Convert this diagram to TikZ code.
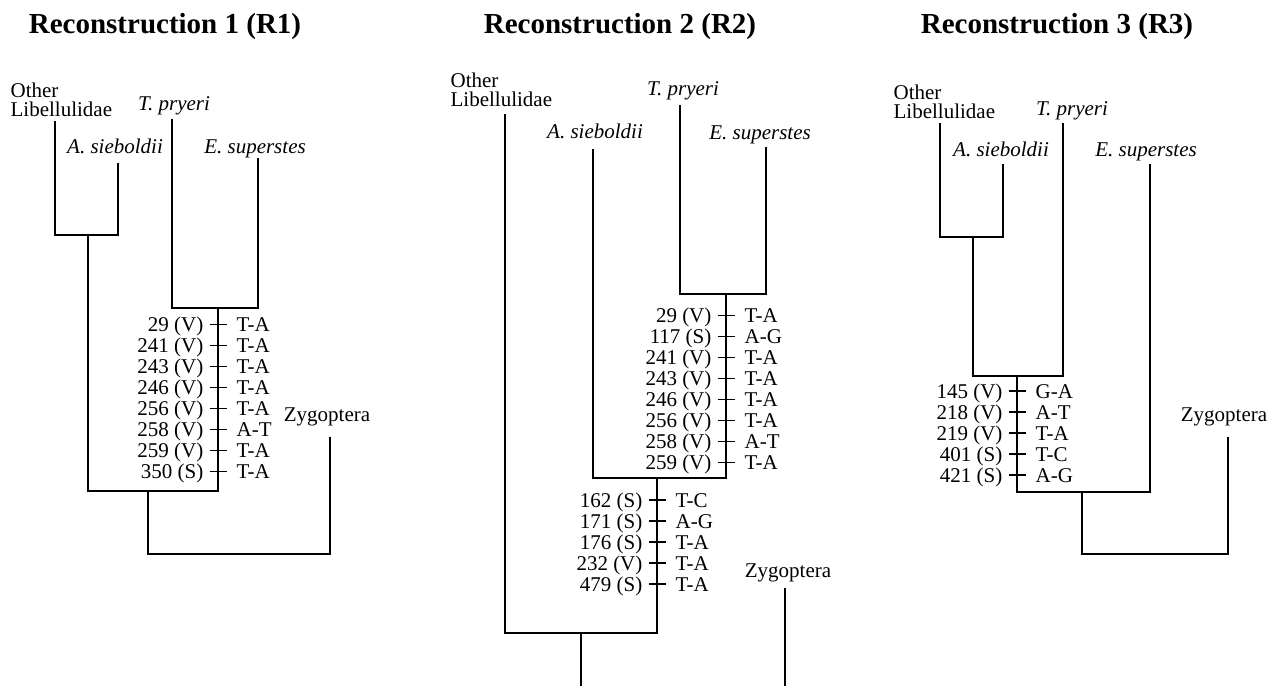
\documentclass[tikz,border=0pt]{standalone}
\usepackage{fontspec}
\setmainfont{Liberation Serif}
\newcommand{\mutlist}[3]{%
  \foreach \yy/\ll/\rr [count=\ii] in {#2} {
    \draw[tickmark] (#1-8.5,\yy) -- (#1+8.5,\yy);
    \node[lab, anchor=base east] (#3l\ii) at (#1-14,\yy+7) {\ll};
    \node[lab, anchor=base west] (#3r\ii) at (#1+18,\yy+7) {\rr};
  }}
\begin{document}
\begin{tikzpicture}[x=1pt,y=-1pt, line width=1.2pt,
  lab/.style={inner sep=0pt, anchor=base, font=\fontsize{21}{21}\selectfont},
  ttl/.style={inner sep=0pt, anchor=base, font=\fontsize{29}{30}\selectfont\bfseries},
  tickmark/.style={line width=1.2pt},
  branch/.style={line width=1.2pt}]
\useasboundingbox (0,0) rectangle (1277,686);

% ---------------- R1 ----------------
\node[ttl] (t1) at (165,33) {Reconstruction 1 (R1)};
\node[lab, anchor=base west] (o1a) at (10,97) {Other};
\node[lab, anchor=base west] (o1b) at (10,116.5) {Libellulidae};
\node[lab] (a1) at (115,153) {\textit{A. sieboldii}};
\node[lab] (p1) at (174,110) {\textit{T. pryeri}};
\node[lab] (e1) at (255,153) {\textit{E. superstes}};
\node[lab] (z1) at (327,421) {Zygoptera};
\coordinate (o1t) at (55,121);
\coordinate (a1t) at (118,163);
\coordinate (n1a) at (88,235);
\coordinate (p1t) at (172,119);
\coordinate (e1t) at (258,158);
\coordinate (n1b) at (218,308);
\coordinate (n1c) at (148,491);
\coordinate (r1) at (148,554);
\coordinate (z1t) at (330,437);
\draw[branch] (o1t) |- (n1a) -| (a1t);
\draw[branch] (p1t) |- (n1b) -| (e1t);
\draw[branch] (n1a) |- (n1c) -| (n1b);
\draw[branch] (n1c) -- (r1) -| (z1t);
\mutlist{218}{324.3/{29 (V)}/T-A, 345.3/{241 (V)}/T-A, 366.3/{243 (V)}/T-A, 387.3/{246 (V)}/T-A, 408.3/{256 (V)}/T-A, 429.3/{258 (V)}/A-T, 450.3/{259 (V)}/T-A, 471.3/{350 (S)}/T-A}{ma}

% ---------------- R2 ----------------
\node[ttl] (t2) at (620,33) {Reconstruction 2 (R2)};
\node[lab, anchor=base west] (o2a) at (450,87.5) {Other};
\node[lab, anchor=base west] (o2b) at (450,106) {Libellulidae};
\node[lab] (a2) at (595,138.5) {\textit{A. sieboldii}};
\node[lab] (p2) at (683,95) {\textit{T. pryeri}};
\node[lab] (e2) at (760,139.5) {\textit{E. superstes}};
\node[lab] (z2) at (788,577) {Zygoptera};
\coordinate (o2t) at (505,114);
\coordinate (a2t) at (593,149);
\coordinate (p2t) at (680,105);
\coordinate (e2t) at (766,147);
\coordinate (n2b) at (726,294);
\coordinate (n2c) at (657,478);
\coordinate (n2d) at (581,633);
\coordinate (r2) at (581,686);
\coordinate (z2t) at (785,588);
\coordinate (z2b) at (785,686);
\draw[branch] (p2t) |- (n2b) -| (e2t);
\draw[branch] (a2t) |- (n2c) -| (n2b);
\draw[branch] (o2t) |- (n2d) -| (n2c);
\draw[branch] (n2d) -- (r2);
\draw[branch] (z2t) -- (z2b);
\mutlist{726}{315.7/{29 (V)}/T-A, 336.7/{117 (S)}/A-G, 357.7/{241 (V)}/T-A, 378.7/{243 (V)}/T-A, 399.7/{246 (V)}/T-A, 420.7/{256 (V)}/T-A, 441.7/{258 (V)}/A-T, 462.7/{259 (V)}/T-A}{mb}
\mutlist{657}{500/{162 (S)}/T-C, 521/{171 (S)}/A-G, 542/{176 (S)}/T-A, 563/{232 (V)}/T-A, 584/{479 (S)}/T-A}{mc}

% ---------------- R3 ----------------
\node[ttl] (t3) at (1057,33) {Reconstruction 3 (R3)};
\node[lab, anchor=base west] (o3a) at (893,99.5) {Other};
\node[lab, anchor=base west] (o3b) at (893,118.5) {Libellulidae};
\node[lab] (a3) at (1001,156) {\textit{A. sieboldii}};
\node[lab] (p3) at (1072,115) {\textit{T. pryeri}};
\node[lab] (e3) at (1146,156) {\textit{E. superstes}};
\node[lab] (z3) at (1224,421) {Zygoptera};
\coordinate (o3t) at (940,123);
\coordinate (a3t) at (1003,164);
\coordinate (n3a) at (973,237);
\coordinate (p3t) at (1063,123);
\coordinate (n3b) at (1017,376);
\coordinate (e3t) at (1150,164);
\coordinate (n3c) at (1082,492);
\coordinate (r3) at (1082,554);
\coordinate (z3t) at (1228,437);
\draw[branch] (o3t) |- (n3a) -| (a3t);
\draw[branch] (n3a) |- (n3b) -| (p3t);
\draw[branch] (n3b) |- (n3c) -| (e3t);
\draw[branch] (n3c) -- (r3) -| (z3t);
\mutlist{1017}{391/{145 (V)}/G-A, 412/{218 (V)}/A-T, 433/{219 (V)}/T-A, 454/{401 (S)}/T-C, 475/{421 (S)}/A-G}{md}
\end{tikzpicture}
\end{document}
